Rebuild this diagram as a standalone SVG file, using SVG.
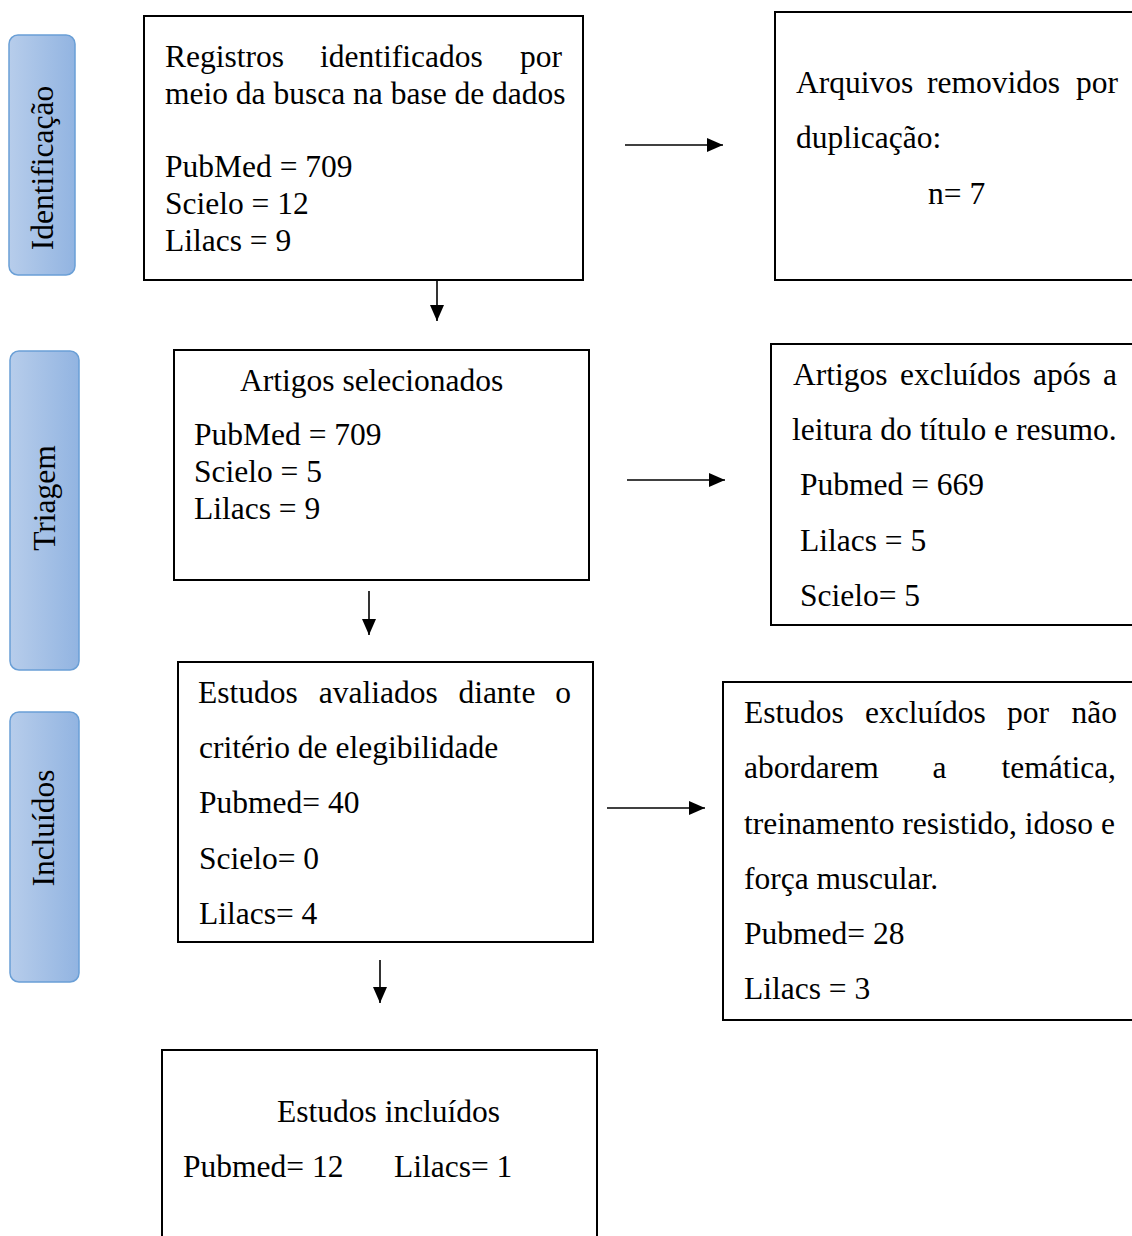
<svg xmlns="http://www.w3.org/2000/svg" width="1132" height="1236" viewBox="0 0 1132 1236">
<defs>
<linearGradient id="side" x1="0" y1="0" x2="1" y2="0">
<stop offset="0" stop-color="#b7cdeb"/>
<stop offset="1" stop-color="#92b4e1"/>
</linearGradient>
<marker id="ah" markerWidth="16" markerHeight="14" refX="16" refY="7" orient="auto" markerUnits="userSpaceOnUse">
<path d="M0,0 L16,7 L0,14 Z" fill="#000"/>
</marker>
</defs>
<style>
text{font-family:"Liberation Serif","Times New Roman",serif;font-size:31.5px;fill:#000}
.box{fill:#fff;stroke:#000;stroke-width:2}
.side{fill:url(#side);stroke:#6a9fd6;stroke-width:1.5}
.con{stroke:#000;stroke-width:1.6;fill:none;marker-end:url(#ah)}
.e{text-anchor:end}
.m{text-anchor:middle}
</style>
<rect width="1132" height="1236" fill="#fff"/>

<g id="lbl-identificacao">
<rect class="side" x="9" y="35" width="66" height="240" rx="9"/>
<text class="m" transform="translate(53,168) rotate(-90)">Identificação</text>
</g>
<g id="lbl-triagem">
<rect class="side" x="10" y="351" width="69" height="319" rx="9"/>
<text class="m" transform="translate(55,498) rotate(-90)">Triagem</text>
</g>
<g id="lbl-incluidos">
<rect class="side" x="10" y="712" width="69" height="270" rx="9"/>
<text class="m" transform="translate(54,828) rotate(-90)">Incluídos</text>
</g>

<g id="n-registros">
<rect class="box" x="144" y="16" width="439" height="264"/>
<text x="165" y="67">Registros</text><text x="320" y="67">identificados</text><text class="e" x="562" y="67">por</text>
<text x="165" y="104">meio da busca na base de dados</text>
<text x="165" y="177">PubMed = 709</text>
<text x="165" y="214">Scielo = 12</text>
<text x="165" y="251">Lilacs = 9</text>
</g>

<g id="n-removidos">
<rect class="box" x="775" y="12" width="370" height="268"/>
<text x="796" y="93">Arquivos</text><text x="927" y="93">removidos</text><text class="e" x="1118" y="93">por</text>
<text x="796" y="148">duplicação:</text>
<text x="928" y="204">n= 7</text>
</g>

<g id="n-selecionados">
<rect class="box" x="174" y="350" width="415" height="230"/>
<text x="240" y="391">Artigos selecionados</text>
<text x="194" y="445">PubMed = 709</text>
<text x="194" y="482">Scielo = 5</text>
<text x="194" y="519">Lilacs = 9</text>
</g>

<g id="n-excluidos-titulo">
<rect class="box" x="771" y="344" width="380" height="281"/>
<text x="793" y="385">Artigos</text><text x="900" y="385">excluídos</text><text x="1033" y="385">após</text><text class="e" x="1117" y="385">a</text>
<text x="792" y="440">leitura do título e resumo.</text>
<text x="800" y="495">Pubmed = 669</text>
<text x="800" y="551">Lilacs = 5</text>
<text x="800" y="606">Scielo= 5</text>
</g>

<g id="n-avaliados">
<rect class="box" x="178" y="662" width="415" height="280"/>
<text x="198" y="703">Estudos</text><text x="318.7" y="703">avaliados</text><text x="458.4" y="703">diante</text><text class="e" x="571" y="703">o</text>
<text x="199" y="758">critério de elegibilidade</text>
<text x="199" y="813">Pubmed= 40</text>
<text x="199" y="869">Scielo= 0</text>
<text x="199" y="924">Lilacs= 4</text>
</g>

<g id="n-excluidos-tema">
<rect class="box" x="723" y="682" width="430" height="338"/>
<text x="744" y="723">Estudos</text><text x="865" y="723">excluídos</text><text x="1007" y="723">por</text><text class="e" x="1117" y="723">não</text>
<text x="744" y="778">abordarem</text><text x="932.5" y="778">a</text><text class="e" x="1116" y="778">temática,</text>
<text x="744" y="834">treinamento resistido, idoso e</text>
<text x="744" y="889">força muscular.</text>
<text x="744" y="944">Pubmed= 28</text>
<text x="744" y="999">Lilacs = 3</text>
</g>

<g id="n-incluidos">
<rect class="box" x="162" y="1050" width="435" height="220"/>
<text x="277" y="1122">Estudos incluídos</text>
<text x="183" y="1177">Pubmed= 12</text>
<text x="394" y="1177">Lilacs= 1</text>
</g>

<g id="connectors">
<line class="con" x1="625" y1="145" x2="723" y2="145"/>
<line class="con" x1="437" y1="280" x2="437" y2="321"/>
<line class="con" x1="627" y1="480" x2="725" y2="480"/>
<line class="con" x1="369" y1="591" x2="369" y2="635"/>
<line class="con" x1="607" y1="808" x2="705" y2="808"/>
<line class="con" x1="380" y1="960" x2="380" y2="1003"/>
</g>
</svg>
